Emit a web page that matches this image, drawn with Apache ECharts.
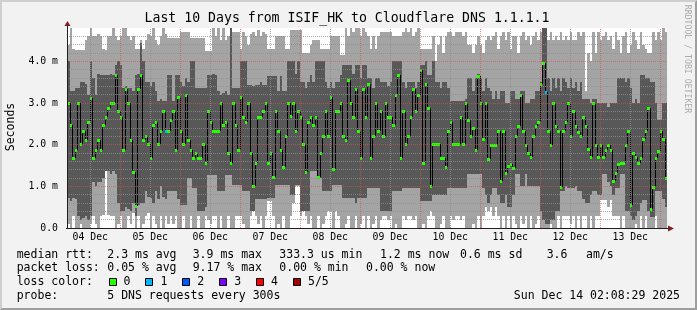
<!DOCTYPE html>
<html><head><meta charset="utf-8">
<script src="https://cdn.jsdelivr.net/npm/echarts@6/dist/echarts.min.js"></script>
<style>html,body{margin:0;padding:0;background:#f2f2f2}#c{width:697px;height:310px}</style>
</head><body><div id="c"></div>
<script>
// ---- data (ms), one value per 1-hour step starting Dec 4 ~02:41 ----
const medianRtt = [
3.0,2.48,1.68,1.88,3.0,2.02,2.34,2.12,2.54,3.12,1.68,1.88,2.12,1.88,2.48,2.66,2.88,3.0,3.0,3.66,
2.8,2.66,1.88,3.34,3.0,2.12,1.34,0.54,3.34,3.66,2.12,2.22,2.02,1.68,2.48,2.54,2.02,2.34,2.8,2.34,
2.34,2.6,2.8,1.88,3.14,2.34,2.02,3.2,2.12,1.88,1.68,1.8,1.68,1.68,2.02,1.56,2.8,2.54,2.34,2.34,
2.34,3.0,2.48,2.54,1.8,1.56,3.0,2.48,1.88,3.14,2.66,2.54,3.0,1.8,1.0,1.56,2.66,2.66,2.8,3.0,
1.56,1.8,1.22,2.8,2.34,1.88,1.46,2.22,3.0,2.68,3.0,2.34,2.8,2.66,2.02,1.34,2.54,2.66,2.48,2.66,
1.22,1.8,2.22,2.8,2.22,3.14,1.42,2.8,2.8,3.0,2.22,2.12,3.54,3.0,2.66,3.34,2.34,1.68,3.34,2.66,
3.46,1.68,2.22,3.0,2.34,2.8,2.22,3.0,2.66,2.66,2.48,3.2,3.66,1.68,2.8,2.02,2.22,2.66,3.34,2.8,
3.2,3.8,1.56,3.46,2.88,1.0,2.02,2.02,2.02,1.68,1.68,1.46,2.34,2.54,2.02,2.02,2.02,2.66,2.02,3.0,
2.6,2.2,2.4,1.87,3.65,2.99,2.13,3.0,1.65,1.99,2.0,2.0,2.34,1.13,2.34,1.33,1.5,1.53,1.45,2.21,
2.45,3.19,2.34,2.0,1.79,1.71,2.21,2.45,2.55,3.45,3.95,3.27,2.34,2.0,3.0,2.45,2.34,0.99,2.34,2.55,
3.0,2.21,2.8,2.45,2.3,2.21,2.67,2.45,1.9,1.7,3.0,2.0,1.7,2.0,1.7,1.87,2.0,1.87,1.13,1.33,
1.53,1.55,1.55,2.0,2.34,0.56,1.79,1.7,1.55,1.68,2.13,2.34,2.87,0.45,0.99,1.68,1.86,2.34,2.13,1.2];
const minRtt = [
0.1,0.0,0.3,0.0,0.0,0.1,0.0,0.0,0.0,0.1,0.3,0.1,0.0,0.3,0.32,1.36,0.32,0.3,0.3,0.0,
0.1,0.3,0.0,0.0,0.3,0.1,0.35,0.0,0.3,0.0,0.1,0.3,0.35,0.0,0.3,0.1,0.0,0.3,0.0,0.3,
0.1,0.3,0.1,0.3,0.0,0.0,0.3,0.0,0.0,0.3,0.0,0.0,0.3,0.0,0.0,0.3,0.2,0.1,0.3,0.3,
0.0,0.3,0.0,0.0,0.3,0.0,0.0,0.3,0.3,0.3,0.1,0.0,0.0,0.3,0.4,0.3,0.1,0.3,0.0,0.3,
0.64,0.64,0.3,0.0,0.1,0.0,0.3,0.0,0.0,0.3,0.6,1.0,1.0,0.3,0.4,0.3,0.1,0.3,0.0,0.0,
0.3,0.0,0.1,0.3,0.4,0.4,0.0,0.4,0.3,0.0,0.0,0.1,0.3,0.0,0.0,0.3,0.0,0.1,0.3,0.0,
0.3,0.0,0.1,0.3,0.0,0.2,0.3,0.3,0.2,0.3,0.0,0.1,0.0,0.0,0.3,0.2,0.3,0.3,0.2,0.3,
0.0,0.0,0.1,0.0,0.3,0.4,0.3,0.0,0.0,0.1,0.3,0.0,0.0,0.3,0.2,0.3,0.3,0.2,0.3,0.0,
0.0,0.0,0.1,0.0,0.3,0.0,0.3,0.5,0.4,0.5,0.3,0.5,0.3,0.0,0.3,0.0,0.3,0.0,0.3,0.1,
0.0,0.3,0.1,0.3,0.0,0.3,0.0,0.1,0.3,0.0,0.0,0.0,0.0,0.1,0.0,0.0,0.3,0.0,0.3,0.3,
0.3,0.1,0.3,0.0,0.3,0.0,0.3,0.3,0.0,0.3,0.0,0.3,0.3,0.67,0.67,0.67,0.5,0.67,0.3,0.3,
0.3,0.0,0.3,0.0,0.0,0.0,0.0,0.1,0.0,0.3,0.0,0.3,0.0,0.0,0.0,0.3,0.0,0.0,0.0,0.0];
const lowRtt = [
0.72,0.64,0.72,0.7,0.3,0.2,0.25,0.3,0.2,0.3,1.1,1.0,1.1,1.1,1.2,1.36,1.36,1.3,1.36,1.3,
0.6,0.4,0.4,0.5,0.45,0.4,0.6,0.3,0.55,0.6,0.6,0.9,0.75,0.72,0.6,0.9,0.7,1.0,0.75,0.7,
0.88,0.88,0.88,0.88,0.7,0.55,0.55,0.55,1.2,1.2,0.96,0.96,0.4,0.4,0.4,0.5,1.28,1.28,1.28,1.28,
0.88,0.88,0.88,1.28,1.28,1.28,1.04,1.04,1.04,1.04,0.88,0.88,0.88,0.4,0.4,0.7,0.7,0.7,0.7,0.7,
0.72,0.72,0.72,1.04,1.04,1.04,1.04,1.04,1.04,0.8,0.8,1.04,1.04,0.4,0.4,0.4,0.4,1.36,1.36,1.36,
1.2,1.2,0.88,0.88,0.88,0.88,1.04,1.04,1.04,1.04,0.72,0.72,0.72,0.72,0.72,0.6,0.72,0.72,0.72,0.72,
0.96,0.96,0.96,0.96,0.96,0.4,0.4,0.4,0.4,0.4,0.88,0.88,0.88,0.88,0.96,0.96,0.96,0.96,0.96,0.96,
0.96,0.64,0.64,0.64,0.64,0.64,0.8,0.8,0.8,0.8,0.8,0.8,0.96,0.96,0.96,0.96,0.96,0.96,0.96,0.96,
1.3,1.3,1.3,1.3,1.3,1.3,0.96,0.8,0.6,0.8,0.96,0.96,0.8,0.6,0.6,0.8,0.5,0.5,0.8,1.3,
1.3,1.0,1.0,1.3,1.0,1.0,1.0,1.0,1.0,0.4,0.2,0.1,0.1,0.2,0.2,0.4,0.4,0.9,0.9,1.0,
0.96,0.96,0.96,1.0,0.9,0.9,0.7,0.6,0.6,0.8,0.9,0.9,0.8,0.8,1.3,1.3,1.1,1.0,0.8,0.96,
0.96,1.3,1.3,0.4,0.4,0.3,0.2,0.3,0.4,0.6,0.67,0.67,0.4,0.26,0.26,0.9,0.9,0.9,0.7,0.5];
const highRtt = [
4.0,3.3,3.3,3.35,3.35,3.5,3.5,3.45,3.2,4.0,3.6,3.2,3.7,3.68,3.68,3.68,3.68,3.7,3.68,3.9,
4.0,3.9,3.36,3.4,3.36,3.36,3.3,3.68,3.7,4.45,4.0,3.5,3.5,3.4,3.5,3.3,3.04,3.1,3.04,3.04,
3.68,3.68,3.04,3.68,3.68,3.5,3.4,3.6,3.5,4.0,4.0,3.36,3.36,3.36,3.36,3.36,3.68,3.68,3.7,3.68,
3.3,3.2,3.25,3.3,3.2,4.9,3.36,3.36,3.36,4.0,4.0,4.0,3.44,3.44,3.4,3.44,3.44,3.5,3.44,3.44,
3.64,3.64,3.64,3.64,3.3,3.64,3.3,3.3,4.0,4.0,4.0,3.7,4.0,3.5,3.5,3.36,3.5,3.68,3.5,4.0,
4.0,4.0,4.0,3.5,3.36,3.5,3.36,3.5,3.5,3.68,3.9,3.9,3.9,3.9,3.7,3.9,3.9,3.6,3.9,3.9,
3.6,3.6,3.36,3.6,3.6,3.5,3.5,3.5,3.4,3.5,4.0,4.0,4.0,4.0,3.5,3.36,3.5,3.5,3.5,3.36,
3.5,3.9,3.9,4.0,3.68,3.68,4.0,3.5,3.5,3.36,3.5,3.5,3.36,3.04,3.04,3.04,3.04,3.04,3.04,3.1,
3.6,3.6,3.3,3.6,3.7,3.6,3.3,3.6,3.36,3.3,3.1,3.3,3.1,3.3,3.3,3.0,3.0,3.3,3.3,3.1,
3.1,3.3,3.3,3.0,3.0,3.1,3.1,3.3,3.3,3.5,4.9,4.9,3.6,3.3,3.6,3.36,3.6,3.3,3.6,3.5,
3.36,3.6,3.36,3.5,3.3,3.5,3.1,3.1,3.1,3.0,3.1,3.1,3.0,3.0,3.0,3.0,2.9,3.0,3.0,3.0,
3.6,3.6,3.6,3.5,3.6,3.36,3.0,3.1,3.0,3.67,3.67,3.6,3.6,3.5,3.5,3.0,2.6,2.6,3.0,3.0];
const maxRtt = [
4.4,4.8,4.3,4.28,4.28,4.28,4.28,4.5,4.6,4.8,4.6,4.6,4.65,4.6,4.3,4.28,4.6,4.6,4.8,4.6,
4.5,4.6,4.8,4.8,4.6,4.5,4.6,4.3,4.3,4.5,4.3,4.5,4.65,4.6,4.8,4.5,4.4,4.6,4.8,4.65,
4.55,4.55,4.55,4.55,4.55,4.7,4.7,4.7,4.7,4.55,4.55,4.55,4.55,4.55,4.55,4.25,4.25,4.25,5.0,4.6,
5.0,4.5,5.0,4.5,4.6,5.0,4.7,4.7,4.7,4.3,4.7,4.6,4.4,4.65,4.7,4.6,4.75,4.6,4.7,4.65,
4.3,4.3,4.3,4.6,4.6,4.6,4.6,4.3,4.3,4.75,4.75,4.75,4.75,4.75,4.2,4.2,4.2,4.4,4.5,4.5,
4.5,4.3,4.3,4.3,4.3,4.6,4.6,4.6,4.6,4.16,4.16,5.0,4.6,5.0,4.7,5.0,5.0,4.6,5.0,4.7,
4.6,4.3,4.6,4.3,4.6,4.7,4.7,4.7,4.7,4.7,4.6,4.6,4.6,4.6,4.7,5.0,4.7,5.0,4.6,4.7,
5.0,4.3,4.3,4.3,4.3,4.3,4.6,4.0,4.4,4.6,4.2,4.6,4.7,4.7,4.6,4.7,4.7,4.7,4.6,4.7,
4.4,4.4,4.2,4.4,4.6,4.4,4.2,4.5,4.6,4.5,4.6,4.7,4.3,4.6,4.7,4.5,4.7,4.3,4.6,4.6,
4.2,4.6,4.7,4.5,4.6,4.4,4.6,4.7,4.5,4.7,5.0,5.0,4.5,4.7,4.5,4.6,4.5,4.7,4.5,4.6,
4.5,4.7,4.5,4.5,4.7,4.6,4.7,3.3,4.2,4.0,4.7,4.2,4.7,4.5,4.6,4.7,4.5,4.6,4.3,4.7,
4.5,4.2,4.6,4.7,4.2,4.4,4.7,4.5,4.3,4.7,4.4,4.3,4.2,4.2,4.7,4.5,4.7,4.5,4.8,4.7];
const lossAt = [[39, 1], [191, 1]];           // [step, lost pings]; all other steps 0
const dayLabels = ['04 Dec','05 Dec','06 Dec','07 Dec','08 Dec','09 Dec','10 Dec','11 Dec','12 Dec','13 Dec'];
const yTicks = [0, 1, 2, 3, 4];
const yTickLabels = ['0.0', '1.0 m', '2.0 m', '3.0 m', '4.0 m'];
const lossLegend = ['0', '1', '2', '3', '4', '5/5'];

// ---- styles / layout ----
const FONT = "'DejaVu Sans Mono', monospace";
const LOSS_COLORS = ['#26ff00', '#00b8ff', '#0059ff', '#7e00ff', '#ff0000', '#a00000'];
const LIGHT = '#a4a4a4', DARK = '#585858';
const GRID_MINOR = 'rgba(143,143,143,0.75)', GRID_MAJOR = 'rgba(222,79,79,0.6)';
const G = { left: 67, top: 28, width: 600, height: 200 };
const XMIN = 2.68, STEP = 1, XMAX = XMIN + 240 * STEP, YMAX = 4.8;

const lossOf = medianRtt.map(() => 0);
lossAt.forEach(([i, l]) => { lossOf[i] = l; });

const smokeData = medianRtt.map((_, i) => [XMIN + i * STEP, minRtt[i], lowRtt[i], highRtt[i], maxRtt[i]]);
const medData = medianRtt.map((v, i) => [XMIN + i * STEP, v, lossOf[i], i > 0 ? medianRtt[i - 1] : v]);

function clampV(v) { return Math.max(0, Math.min(YMAX, v)); }

function renderSmoke(params, api) {
  const t = api.value(0);
  const xa = Math.round(api.coord([t, 0])[0]);
  const xb = Math.round(api.coord([t + STEP, 0])[0]);
  const py = v => Math.round(api.coord([t, clampV(v)])[1]);
  const vals = [api.value(1), api.value(2), api.value(3), api.value(4)];
  const band = (a, b, fill) => {
    const y0 = py(a), y1 = py(b);
    return { type: 'rect', shape: { x: xa, y: Math.min(y0, y1), width: xb - xa, height: Math.abs(y0 - y1) }, style: { fill } };
  };
  return { type: 'group', children: [band(vals[0], vals[1], LIGHT), band(vals[1], vals[2], DARK), band(vals[2], vals[3], LIGHT)] };
}

function renderMedian(params, api) {
  const t = api.value(0), v = api.value(1), loss = api.value(2), prev = api.value(3);
  const xa = Math.round(api.coord([t, 0])[0]);
  const xb = Math.round(api.coord([t + STEP, 0])[0]);
  const yv = Math.round(api.coord([t, clampV(v)])[1]);
  const yp = Math.round(api.coord([t, clampV(prev)])[1]);
  return { type: 'group', children: [
    { type: 'line', shape: { x1: xa + 0.5, y1: yp, x2: xa + 0.5, y2: yv }, style: { stroke: '#000', lineWidth: 1 } },
    { type: 'rect', shape: { x: xa, y: yv - 1, width: xb - xa, height: 3 }, style: { fill: LOSS_COLORS[loss] } }
  ] };
}

// grid line positions (tick values)
const yMinor = [], yMajor = [];
for (let k = 1; k < 24; k++) { const v = +(k * 0.2).toFixed(1); if (k % 5 === 0) yMajor.push(v); else yMinor.push(v); }
const noonHours = dayLabels.map((_, k) => 12 + 24 * k);
const midnightHours = dayLabels.map((_, k) => 24 + 24 * k);

const dash = [1, 1];
const gridLines = [
  ...yMinor.map(v => ({ yAxis: v, lineStyle: { color: GRID_MINOR, type: dash, width: 1 } })),
  ...noonHours.map(h => ({ xAxis: h, lineStyle: { color: GRID_MINOR, type: dash, width: 1 } })),
  ...yMajor.map(v => ({ yAxis: v, lineStyle: { color: GRID_MAJOR, type: dash, width: 1 } })),
  ...midnightHours.map(h => ({ xAxis: h, lineStyle: { color: GRID_MAJOR, type: dash, width: 1 } }))
];

function text(x, y, s, size, extra) {
  return Object.assign({ type: 'text', x, y, silent: true,
    style: Object.assign({ text: s, fontSize: size, fontFamily: FONT, fill: '#000',
      align: 'left', verticalAlign: 'middle', textAlign: 'left', textVerticalAlign: 'middle' }, (extra && extra.style) || {}) },
    extra && extra.el || {});
}

const legendRows = [
  [255, [[16.7, 'median rtt:'], [107.3, '2.3 ms avg'], [192.7, '3.9 ms max'], [279.3, '333.3 us min'], [380, '1.2 ms now'], [460, '0.6 ms sd'], [546.7, '3.6'], [586, 'am/s']]],
  [268.3, [[16.7, 'packet loss:'], [107.3, '0.05 % avg'], [192.7, '9.17 % max'], [279.3, '0.00 % min'], [366, '0.00 % now']]],
  [282.3, [[16.7, 'loss color:']]],
  [296, [[16.7, 'probe:'], [107.3, '5 DNS requests every 300s']]]
];

const graphics = [
  { type: 'polygon', silent: true, shape: { points: [[0,0],[697,0],[695,2],[2,2],[2,308],[0,310]] }, style: { fill: '#cfcfcf' } },
  { type: 'polygon', silent: true, shape: { points: [[697,0],[697,310],[0,310],[2,308],[695,308],[695,2]] }, style: { fill: '#9e9e9e' } },
  // axes lines + arrows
  { type: 'line', silent: true, z: 20, shape: { x1: G.left + 0.5, y1: G.top - 3, x2: G.left + 0.5, y2: G.top + G.height + 1 }, style: { stroke: '#1f1f1f', lineWidth: 1 } },
  { type: 'line', silent: true, z: 20, shape: { x1: G.left - 1, y1: G.top + G.height + 0.5, x2: G.left + G.width + 4, y2: G.top + G.height + 0.5 }, style: { stroke: '#1f1f1f', lineWidth: 1 } },
  { type: 'polygon', silent: true, z: 21, shape: { points: [[G.left - 2.5, G.top - 2], [G.left + 3.5, G.top - 2], [G.left + 0.5, G.top - 7]] }, style: { fill: '#801f1f' } },
  { type: 'polygon', silent: true, z: 21, shape: { points: [[G.left + G.width + 1, G.top + G.height - 2.5], [G.left + G.width + 1, G.top + G.height + 3.5], [G.left + G.width + 7, G.top + G.height + 0.5]] }, style: { fill: '#801f1f' } },
  text(347, 19, 'Last 10 Days from ISIF_HK to Cloudflare DNS 1.1.1.1', 13.2, { style: { align: 'center', textAlign: 'center' } }),
  text(11, 127, 'Seconds', 11.5, { style: { align: 'center', textAlign: 'center' }, el: { rotation: Math.PI / 2 } }),
  text(687.5, 59, 'RRDTOOL / TOBI OETIKER', 8.2, { style: { align: 'center', textAlign: 'center', fill: '#ababab' }, el: { rotation: -Math.PI / 2 } }),
  text(680, 296, 'Sun Dec 14 02:08:29 2025', 11.5, { style: { align: 'right', textAlign: 'right' } })
];
legendRows.forEach(([y, segs]) => segs.forEach(([x, s]) => graphics.push(text(x, y, s, 11.5))));
lossLegend.forEach((lab, k) => {
  const x = 108.5 + 36.9 * k;
  graphics.push({ type: 'rect', silent: true, shape: { x: Math.round(x) + 0.5, y: 278.5, width: 7, height: 7 }, style: { fill: LOSS_COLORS[k], stroke: '#000', lineWidth: 1 } });
  graphics.push(text(x + 15, 282.3, lab, 11.5));
});

const chart = echarts.init(document.getElementById('c'), null, { renderer: 'canvas' });
chart.setOption({
  animation: false,
  backgroundColor: '#f2f2f2',
  grid: Object.assign({ show: true, backgroundColor: '#ffffff', borderWidth: 0, containLabel: false, outerBoundsMode: 'none' }, G),
  xAxis: {
    type: 'value', min: XMIN, max: XMAX,
    axisLine: { show: false }, axisTick: { show: false }, splitLine: { show: false },
    axisLabel: { customValues: noonHours, formatter: v => dayLabels[Math.round((v - 12) / 24)],
      fontFamily: FONT, fontSize: 9.8, color: '#000', margin: 4.5, lineHeight: 10 }
  },
  yAxis: {
    type: 'value', min: 0, max: YMAX,
    axisLine: { show: false }, axisTick: { show: false }, splitLine: { show: false },
    axisLabel: { customValues: yTicks, formatter: v => yTickLabels[yTicks.indexOf(Math.round(v))],
      fontFamily: FONT, fontSize: 9.8, color: '#000', margin: 9 }
  },
  series: [
    { type: 'custom', name: 'smoke', renderItem: renderSmoke, data: smokeData, encode: { x: 0, y: [1, 2, 3, 4] }, clip: true, z: 2, silent: true },
    { type: 'custom', name: 'median', renderItem: renderMedian, data: medData, encode: { x: 0, y: 1 }, clip: true, z: 3, silent: true },
    { type: 'line', name: 'grid', data: [], z: 5, silent: true,
      markLine: { silent: true, symbol: ['none', 'none'], label: { show: false }, animation: false, data: gridLines } }
  ],
  graphic: graphics
});
</script></body></html>
